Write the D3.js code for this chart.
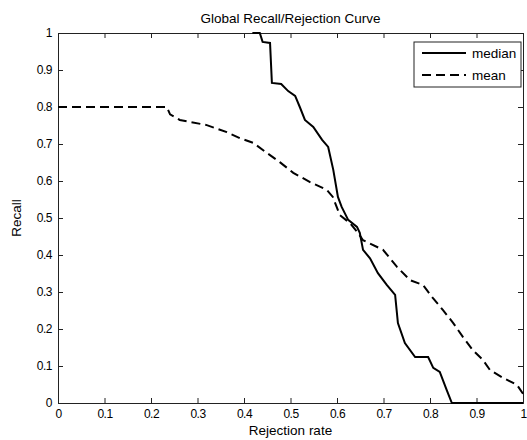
<!DOCTYPE html>
<html>
<head>
<meta charset="utf-8">
<script src="https://cdn.jsdelivr.net/npm/d3@7"></script>
<style>
  body { margin: 0; background: #fff; }
  svg { display: block; font-family: "Liberation Sans", Arial, sans-serif; }
</style>
</head>
<body>
<svg width="527" height="440"></svg>
<script>
// Data
const xTicks = [0, 0.1, 0.2, 0.3, 0.4, 0.5, 0.6, 0.7, 0.8, 0.9, 1];
const yTicks = [0, 0.1, 0.2, 0.3, 0.4, 0.5, 0.6, 0.7, 0.8, 0.9, 1];

const medianPoints = [
  [0.418, 1.0], [0.434, 1.0], [0.44, 0.976], [0.456, 0.973], [0.46, 0.865],
  [0.48, 0.862], [0.495, 0.843], [0.51, 0.83], [0.52, 0.80], [0.531, 0.765],
  [0.549, 0.746], [0.568, 0.711], [0.581, 0.692], [0.592, 0.63], [0.602, 0.557],
  [0.61, 0.53], [0.624, 0.495], [0.643, 0.476], [0.649, 0.46], [0.656, 0.414],
  [0.671, 0.391], [0.688, 0.351], [0.707, 0.319], [0.725, 0.292], [0.731, 0.216],
  [0.746, 0.162], [0.768, 0.124], [0.796, 0.124], [0.807, 0.095], [0.821, 0.084],
  [0.836, 0.035], [0.847, 0], [1, 0]
];

const meanPoints = [
  [0, 0.8], [0.234, 0.8], [0.241, 0.78], [0.262, 0.765], [0.32, 0.751],
  [0.363, 0.732], [0.391, 0.716], [0.42, 0.703], [0.449, 0.676], [0.477, 0.651],
  [0.506, 0.622], [0.542, 0.597], [0.578, 0.576], [0.591, 0.557], [0.606, 0.508],
  [0.628, 0.486], [0.645, 0.46], [0.656, 0.44], [0.699, 0.414], [0.729, 0.368],
  [0.757, 0.332], [0.785, 0.319], [0.806, 0.284], [0.828, 0.251], [0.85, 0.216],
  [0.871, 0.178], [0.892, 0.143], [0.914, 0.116], [0.929, 0.089], [0.957, 0.068],
  [0.987, 0.049], [1, 0.025]
];

const seriesNames = ['median', 'mean'];

const svg = d3.select('svg');
const mLeft = 58, mRight = 523, mTop = 33, mBottom = 403;

const x = d3.scaleLinear().domain([0, 1]).range([mLeft, mRight]);
const y = d3.scaleLinear().domain([0, 1]).range([mBottom, mTop]);
const axisColor = '#222';
const labelSize = '13.5px';

// Axes (ticks inward, box on)
const fmt = d => d3.format('')(d);
const gx = svg.append('g').attr('transform', 'translate(0,' + mBottom + ')')
  .call(d3.axisBottom(x).tickValues(xTicks).tickSize(-5).tickPadding(6).tickFormat(fmt));
const gxTop = svg.append('g').attr('transform', 'translate(0,' + mTop + ')')
  .call(d3.axisTop(x).tickValues(xTicks).tickSize(-5).tickFormat(''));
const gy = svg.append('g').attr('transform', 'translate(' + mLeft + ',0)')
  .call(d3.axisLeft(y).tickValues(yTicks).tickSize(-5).tickPadding(6).tickFormat(fmt));
const gyRight = svg.append('g').attr('transform', 'translate(' + mRight + ',0)')
  .call(d3.axisRight(y).tickValues(yTicks).tickSize(-5).tickFormat(''));

[gx, gxTop, gy, gyRight].forEach(g => {
  g.select('.domain').attr('stroke', axisColor);
  g.selectAll('.tick line').attr('stroke', axisColor);
  g.selectAll('.tick text').attr('fill', '#000').attr('font-size', '12px')
    .attr('letter-spacing', '-0.5px')
    .attr('font-family', '"Liberation Sans", Arial, sans-serif');
});
gx.selectAll('.tick text').attr('dy', '0.71em');

// Lines
const line = d3.line().x(d => x(d[0])).y(d => y(d[1]));

svg.append('path').datum(meanPoints)
  .attr('d', line).attr('fill', 'none').attr('stroke', '#000')
  .attr('stroke-width', 2).attr('stroke-dasharray', '9,5');

svg.append('path').datum(medianPoints)
  .attr('d', line).attr('fill', 'none').attr('stroke', '#000')
  .attr('stroke-width', 2);

// Title and axis labels
svg.append('text').attr('x', (mLeft + mRight) / 2).attr('y', 23)
  .attr('text-anchor', 'middle').attr('font-size', labelSize).text('Global Recall/Rejection Curve');
svg.append('text').attr('x', (mLeft + mRight) / 2).attr('y', 435)
  .attr('text-anchor', 'middle').attr('font-size', labelSize).text('Rejection rate');
svg.append('text').attr('transform', 'translate(21,' + (mTop + mBottom) / 2 + ') rotate(-90)')
  .attr('text-anchor', 'middle').attr('font-size', labelSize).text('Recall');

// Legend
const legend = svg.append('g').attr('transform', 'translate(414,42)');
legend.append('rect').attr('width', 107).attr('height', 45)
  .attr('fill', '#fff').attr('stroke', axisColor);
seriesNames.forEach((name, i) => {
  const ly = 11 + i * 22;
  legend.append('line').attr('x1', 8).attr('x2', 52).attr('y1', ly).attr('y2', ly)
    .attr('stroke', '#000').attr('stroke-width', 2)
    .attr('stroke-dasharray', i === 1 ? '9,5' : null);
  legend.append('text').attr('x', 58).attr('y', ly).attr('dy', '0.35em')
    .attr('font-size', labelSize).text(name);
});
</script>
</body>
</html>
